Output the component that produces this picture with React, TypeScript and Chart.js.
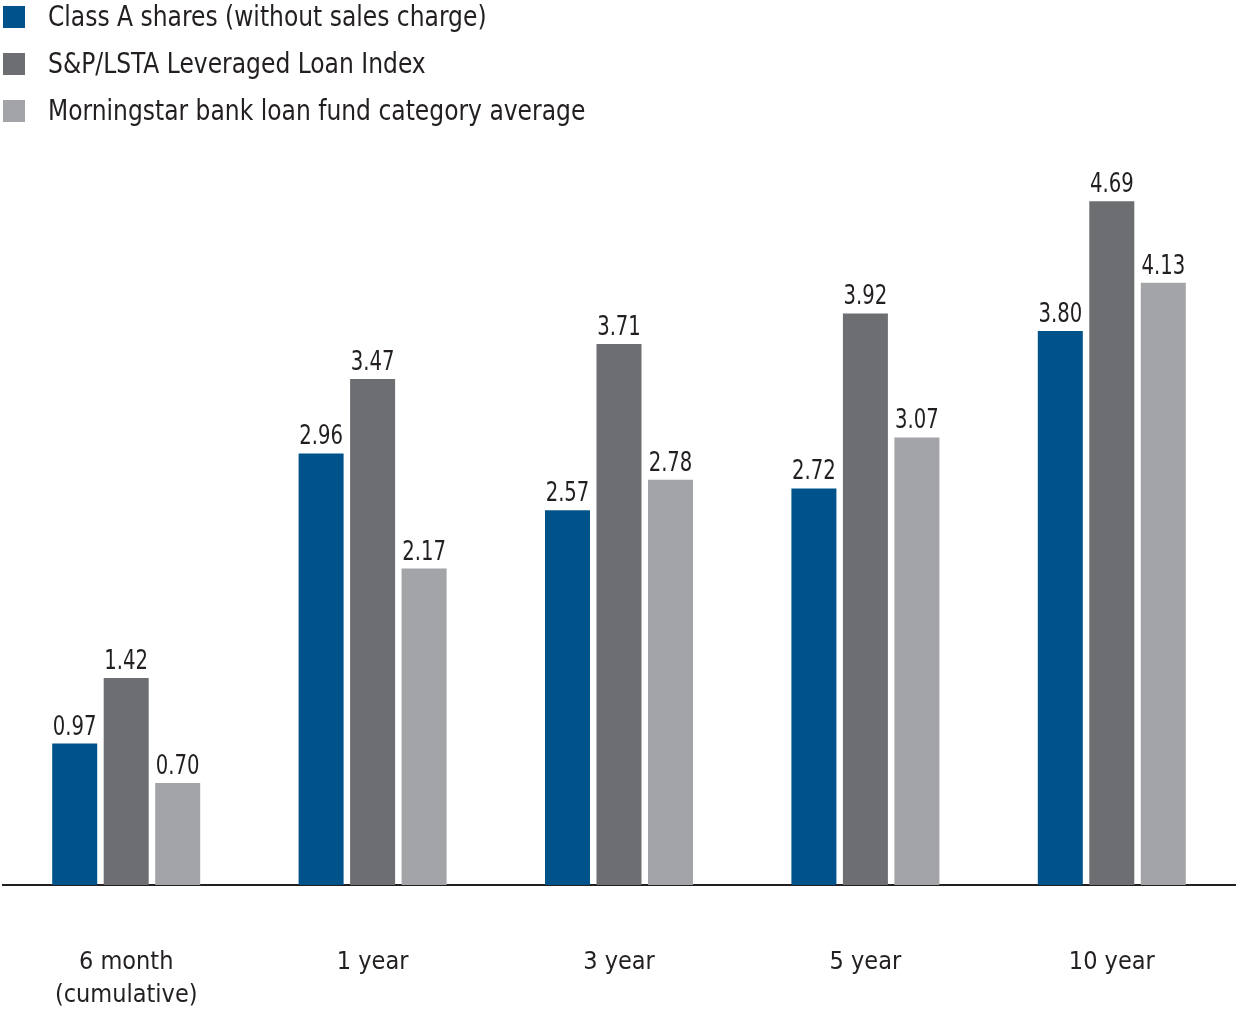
import React, { useEffect, useRef } from 'react';
import { Chart, registerables } from 'chart.js';

Chart.register(...registerables);

const categories: (string | string[])[] = [['6 month', '(cumulative)'], '1 year', '3 year', '5 year', '10 year'];
const seriesNames = [
  'Class A shares (without sales charge)',
  'S&P/LSTA Leveraged Loan Index',
  'Morningstar bank loan fund category average',
];
const classA = [0.97, 2.96, 2.57, 2.72, 3.8];
const loanIndex = [1.42, 3.47, 3.71, 3.92, 4.69];
const categoryAvg = [0.7, 2.17, 2.78, 3.07, 4.13];
const seriesColors = ['#00538a', '#6d6e71', '#a2a4a7'];

const FONT = "'Liberation Sans Narrow', 'DejaVu Sans Condensed', 'Arial Narrow', sans-serif";
const TEXT = '#231f20';

function fillNarrow(ctx: CanvasRenderingContext2D, text: string, x: number, y: number, factor: number) {
  const w = ctx.measureText(text).width;
  ctx.fillText(text, x, y, w * factor);
}

const legendPlugin = {
  id: 'stackedLegend',
  afterDraw(chart: any) {
    const ctx = chart.ctx;
    ctx.save();
    ctx.font = `28px ${FONT}`;
    ctx.textBaseline = 'middle';
    ctx.textAlign = 'left';
    chart.data.datasets.forEach((ds: any, i: number) => {
      const cy = 17 + i * 47;
      ctx.fillStyle = ds.backgroundColor;
      ctx.fillRect(3, cy - 11, 22, 22);
      ctx.fillStyle = TEXT;
      fillNarrow(ctx, ds.label, 48, cy + 2, 0.93);
    });
    ctx.restore();
  },
};

const valueLabelPlugin = {
  id: 'valueLabels',
  afterDatasetsDraw(chart: any) {
    const ctx = chart.ctx;
    ctx.save();
    ctx.font = `26px ${FONT}`;
    ctx.fillStyle = TEXT;
    ctx.textAlign = 'center';
    ctx.textBaseline = 'alphabetic';
    chart.data.datasets.forEach((ds: any, di: number) => {
      const meta = chart.getDatasetMeta(di);
      meta.data.forEach((bar: any, i: number) => {
        const v = ds.data[i] as number;
        fillNarrow(ctx, v.toFixed(2), bar.x, bar.y - 9, 0.84);
      });
    });
    ctx.restore();
  },
};

export default function App() {
  const ref = useRef<HTMLCanvasElement | null>(null);

  useEffect(() => {
    if (!ref.current) return;
    const data = [classA, loanIndex, categoryAvg];
    const chart = new Chart(ref.current, {
      type: 'bar',
      data: {
        labels: categories,
        datasets: data.map((d, i) => ({
          label: seriesNames[i],
          data: d,
          backgroundColor: seriesColors[i],
          borderWidth: 0,
          categoryPercentage: 0.627,
          barPercentage: 0.874,
        })),
      },
      options: {
        animation: false,
        responsive: false,
        maintainAspectRatio: false,
        layout: { padding: { top: 156, left: 3, right: 3, bottom: 0 } },
        plugins: {
          legend: { display: false },
          tooltip: { enabled: false },
          title: { display: false },
        },
        scales: {
          x: {
            grid: { display: false },
            border: { display: true, color: TEXT, width: 2 },
            ticks: {
              color: TEXT,
              font: { family: FONT, size: 25, lineHeight: 1.32 },
              padding: 53,
              maxRotation: 0,
              autoSkip: false,
            },
            afterFit: (scale: any) => {
              scale.height = 125;
              scale.paddingLeft = 0;
              scale.paddingRight = 0;
            },
          },
          y: {
            display: false,
            min: 0,
            max: 5,
          },
        },
      },
      plugins: [legendPlugin, valueLabelPlugin],
    });
    return () => chart.destroy();
  }, []);

  return (
    <div style={{ position: 'absolute', left: 0, top: 0, width: 1238, height: 1010, background: '#fff' }}>
      <canvas ref={ref} width={1238} height={1010} style={{ display: 'block', width: 1238, height: 1010 }} />
    </div>
  );
}
